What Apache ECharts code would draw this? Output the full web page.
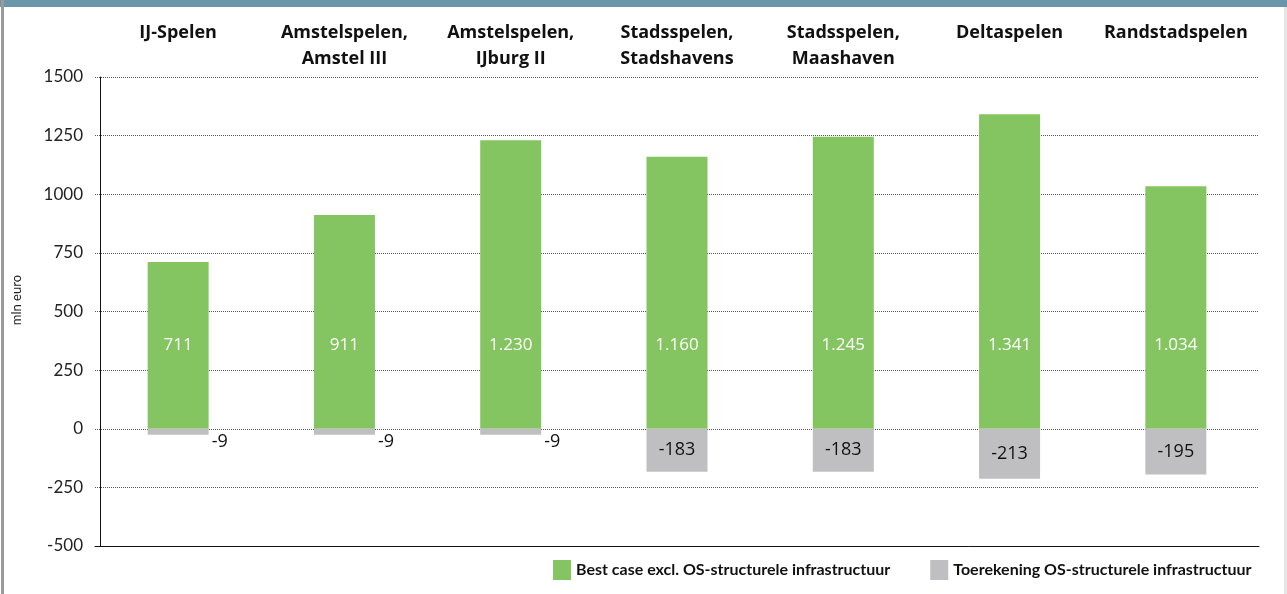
<!DOCTYPE html>
<html>
<head>
<meta charset="utf-8">
<script src="https://cdn.jsdelivr.net/npm/echarts@6/dist/echarts.min.js"></script>
<style>
html,body{margin:0;padding:0;background:#fff;}
#c{width:1287px;height:594px;}
</style>
</head>
<body>
<div id="c"></div>
<script>
const categories = ['IJ-Spelen', 'Amstelspelen,\nAmstel III', 'Amstelspelen,\nIJburg II', 'Stadsspelen,\nStadshavens', 'Stadsspelen,\nMaashaven', 'Deltaspelen', 'Randstadspelen'];
const bestCase = [711, 911, 1230, 1160, 1245, 1341, 1034];
const toerekening = [-9, -9, -9, -183, -183, -213, -195];
const seriesNames = ['Best case excl. OS-structurele infrastructuur', 'Toerekening OS-structurele infrastructuur'];
const yTicks = { min: -500, max: 1500, interval: 250 };

const FONT = '"Open Sans", Lato, sans-serif';
const FONT2 = 'Lato, "Open Sans", sans-serif';
function nl(v) {
  const s = String(Math.abs(v)).replace(/\B(?=(\d{3})+(?!\d))/g, '.');
  return (v < 0 ? '-' : '') + s;
}

const grayData = toerekening.map(v => {
  if (Math.abs(v) < 50) {
    return { value: v, label: { position: 'right', distance: 3, offset: [0, 10], color: '#111' } };
  }
  return v;
});

const chart = echarts.init(document.getElementById('c'), null, { renderer: 'canvas' });
chart.setOption({
  animation: false,
  backgroundColor: '#ffffff',
  grid: { left: 95, right: 28, top: 77, bottom: 48, containLabel: false },
  legend: {
    bottom: 9, left: 548,
    itemWidth: 18, itemHeight: 20, itemGap: 40,
    icon: 'rect',
    textStyle: { fontFamily: FONT2, fontSize: 16, fontWeight: 'bold', color: '#111' },
    data: seriesNames
  },
  xAxis: [
    {
      type: 'category', data: categories, position: 'bottom',
      axisLine: { show: true, onZero: false, lineStyle: { color: '#111', width: 1 } },
      axisTick: { show: false }, axisLabel: { show: false }, splitLine: { show: false }
    },
    {
      type: 'category', data: categories, position: 'top',
      axisLine: { show: false }, axisTick: { show: false },
      axisLabel: {
        show: true, interval: 0, margin: 57, verticalAlign: 'top',
        fontFamily: FONT, fontSize: 18, fontWeight: 'bold', color: '#111', lineHeight: 26
      }
    }
  ],
  yAxis: {
    type: 'value', min: yTicks.min, max: yTicks.max, interval: yTicks.interval,
    offset: -5,
    axisLine: { show: true, lineStyle: { color: '#111', width: 1 } },
    axisTick: { show: false },
    axisLabel: { margin: 17, fontFamily: FONT2, fontSize: 17, color: '#222', formatter: v => String(v) },
    splitLine: { show: true, lineStyle: { type: 'dotted', color: '#555', width: 1 } }
  },
  series: [
    {
      name: seriesNames[0], type: 'bar', stack: 'a', barWidth: 61,
      itemStyle: { color: '#84c561' },
      label: { show: true, position: 'insideBottom', distance: 75, fontFamily: FONT, fontSize: 17, color: '#fff', formatter: p => nl(p.value) },
      data: bestCase
    },
    {
      name: seriesNames[1], type: 'bar', stack: 'a', barWidth: 61, barMinHeight: 6,
      itemStyle: { color: '#bfbfc1' },
      label: { show: true, position: 'inside', fontFamily: FONT, fontSize: 18, color: '#111', formatter: p => nl(p.value) },
      data: grayData
    }
  ],
  graphic: [
    { type: 'rect', left: 0, top: 0, shape: { width: 1287, height: 7 }, style: { fill: '#6a96ab' }, silent: true },
    { type: 'rect', left: 1, top: 0, shape: { width: 3, height: 594 }, style: { fill: '#9a9a9a' }, silent: true },
    { type: 'rect', left: 1284, top: 7, shape: { width: 3, height: 587 }, style: { fill: '#e6e6e6' }, silent: true },
    { type: 'text', left: 10, top: 275, rotation: Math.PI / 2, style: { text: 'mln euro', font: '13px ' + FONT2, fill: '#222' } }
  ]
});
</script>
</body>
</html>
